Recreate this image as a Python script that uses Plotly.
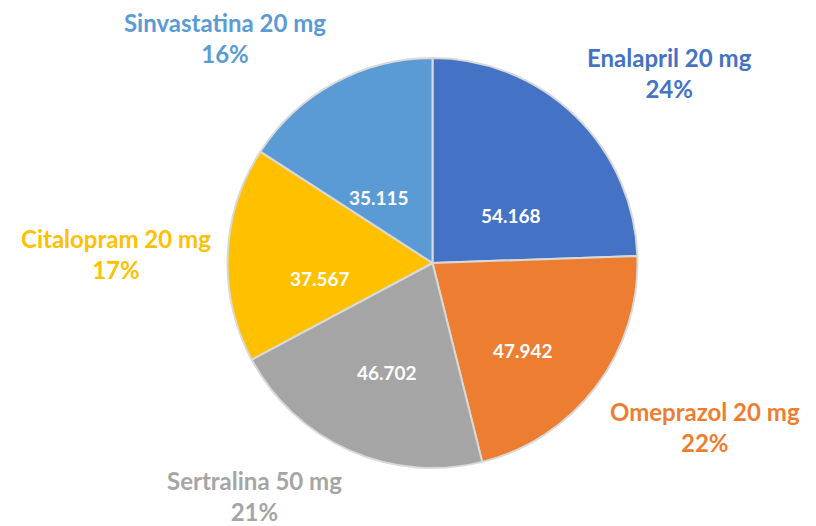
import numpy as np
import plotly.graph_objects as go

labels = ['Enalapril 20 mg', 'Omeprazol 20 mg', 'Sertralina 50 mg',
          'Citalopram 20 mg', 'Sinvastatina 20 mg']
values = [54168, 47942, 46702, 37567, 35115]
colors = ['#4472C4', '#ED7D31', '#A5A5A5', '#FFC000', '#5B9BD5']

W, H = 816, 526
# page body has an 8px margin, so the pie box is moved up/left by that much
off = 8
dom_x = [(227 - off) / W, (638 - off) / W]
dom_y = [(H - 468 + off) / H, (H - 58 + off) / H]

fig = go.Figure()
fig.add_trace(go.Pie(
    labels=labels,
    values=values,
    sort=False,
    direction='clockwise',
    rotation=0,
    domain=dict(x=dom_x, y=dom_y),
    marker=dict(colors=colors, line=dict(color='#D9D9D9', width=2)),
    textinfo='none',
    hovertemplate='%{label}<br>%{value:,.0f} (%{percent})<extra></extra>',
    showlegend=False,
))

cx = (dom_x[0] + dom_x[1]) / 2 * W
cy = (1 - (dom_y[0] + dom_y[1]) / 2) * H
R = min((dom_x[1] - dom_x[0]) * W, (dom_y[1] - dom_y[0]) * H) / 2
total = sum(values)
cum = 0
for lab, v, c in zip(labels, values, colors):
    frac = v / total
    mid = (cum + frac / 2) * 2 * np.pi
    cum += frac
    s, co = np.sin(mid), np.cos(mid)

    # value inside the slice
    vx = cx + 0.55 * R * s
    vy = cy - 0.55 * R * co
    fig.add_annotation(
        x=vx / W, y=1 - vy / H, xref='paper', yref='paper',
        text=f'{v:,}'.replace(',', '.'),
        showarrow=False, yshift=-20,
        font=dict(family='Lato', size=19, color='white', weight='bold'),
    )

    # category + percent outside
    px = cx + 1.07 * R * s
    py = cy - 1.07 * R * co
    xa = 'left' if s > 0.3 else ('right' if s < -0.3 else 'center')
    ya = 'bottom' if co > 0.3 else ('top' if co < -0.3 else 'middle')
    fig.add_annotation(
        x=px / W, y=1 - py / H, xref='paper', yref='paper',
        text=f'{lab}<br>{round(frac * 100)}%',
        showarrow=False, xanchor=xa, yanchor=ya, align='center',
        font=dict(family='Lato', size=24, color=c, weight='bold'),
    )

fig.update_layout(
    width=W, height=H,
    margin=dict(l=0, r=0, t=0, b=0),
    paper_bgcolor='white',
    plot_bgcolor='white',
    separators=',.',
)

fig.write_html('out.html')
